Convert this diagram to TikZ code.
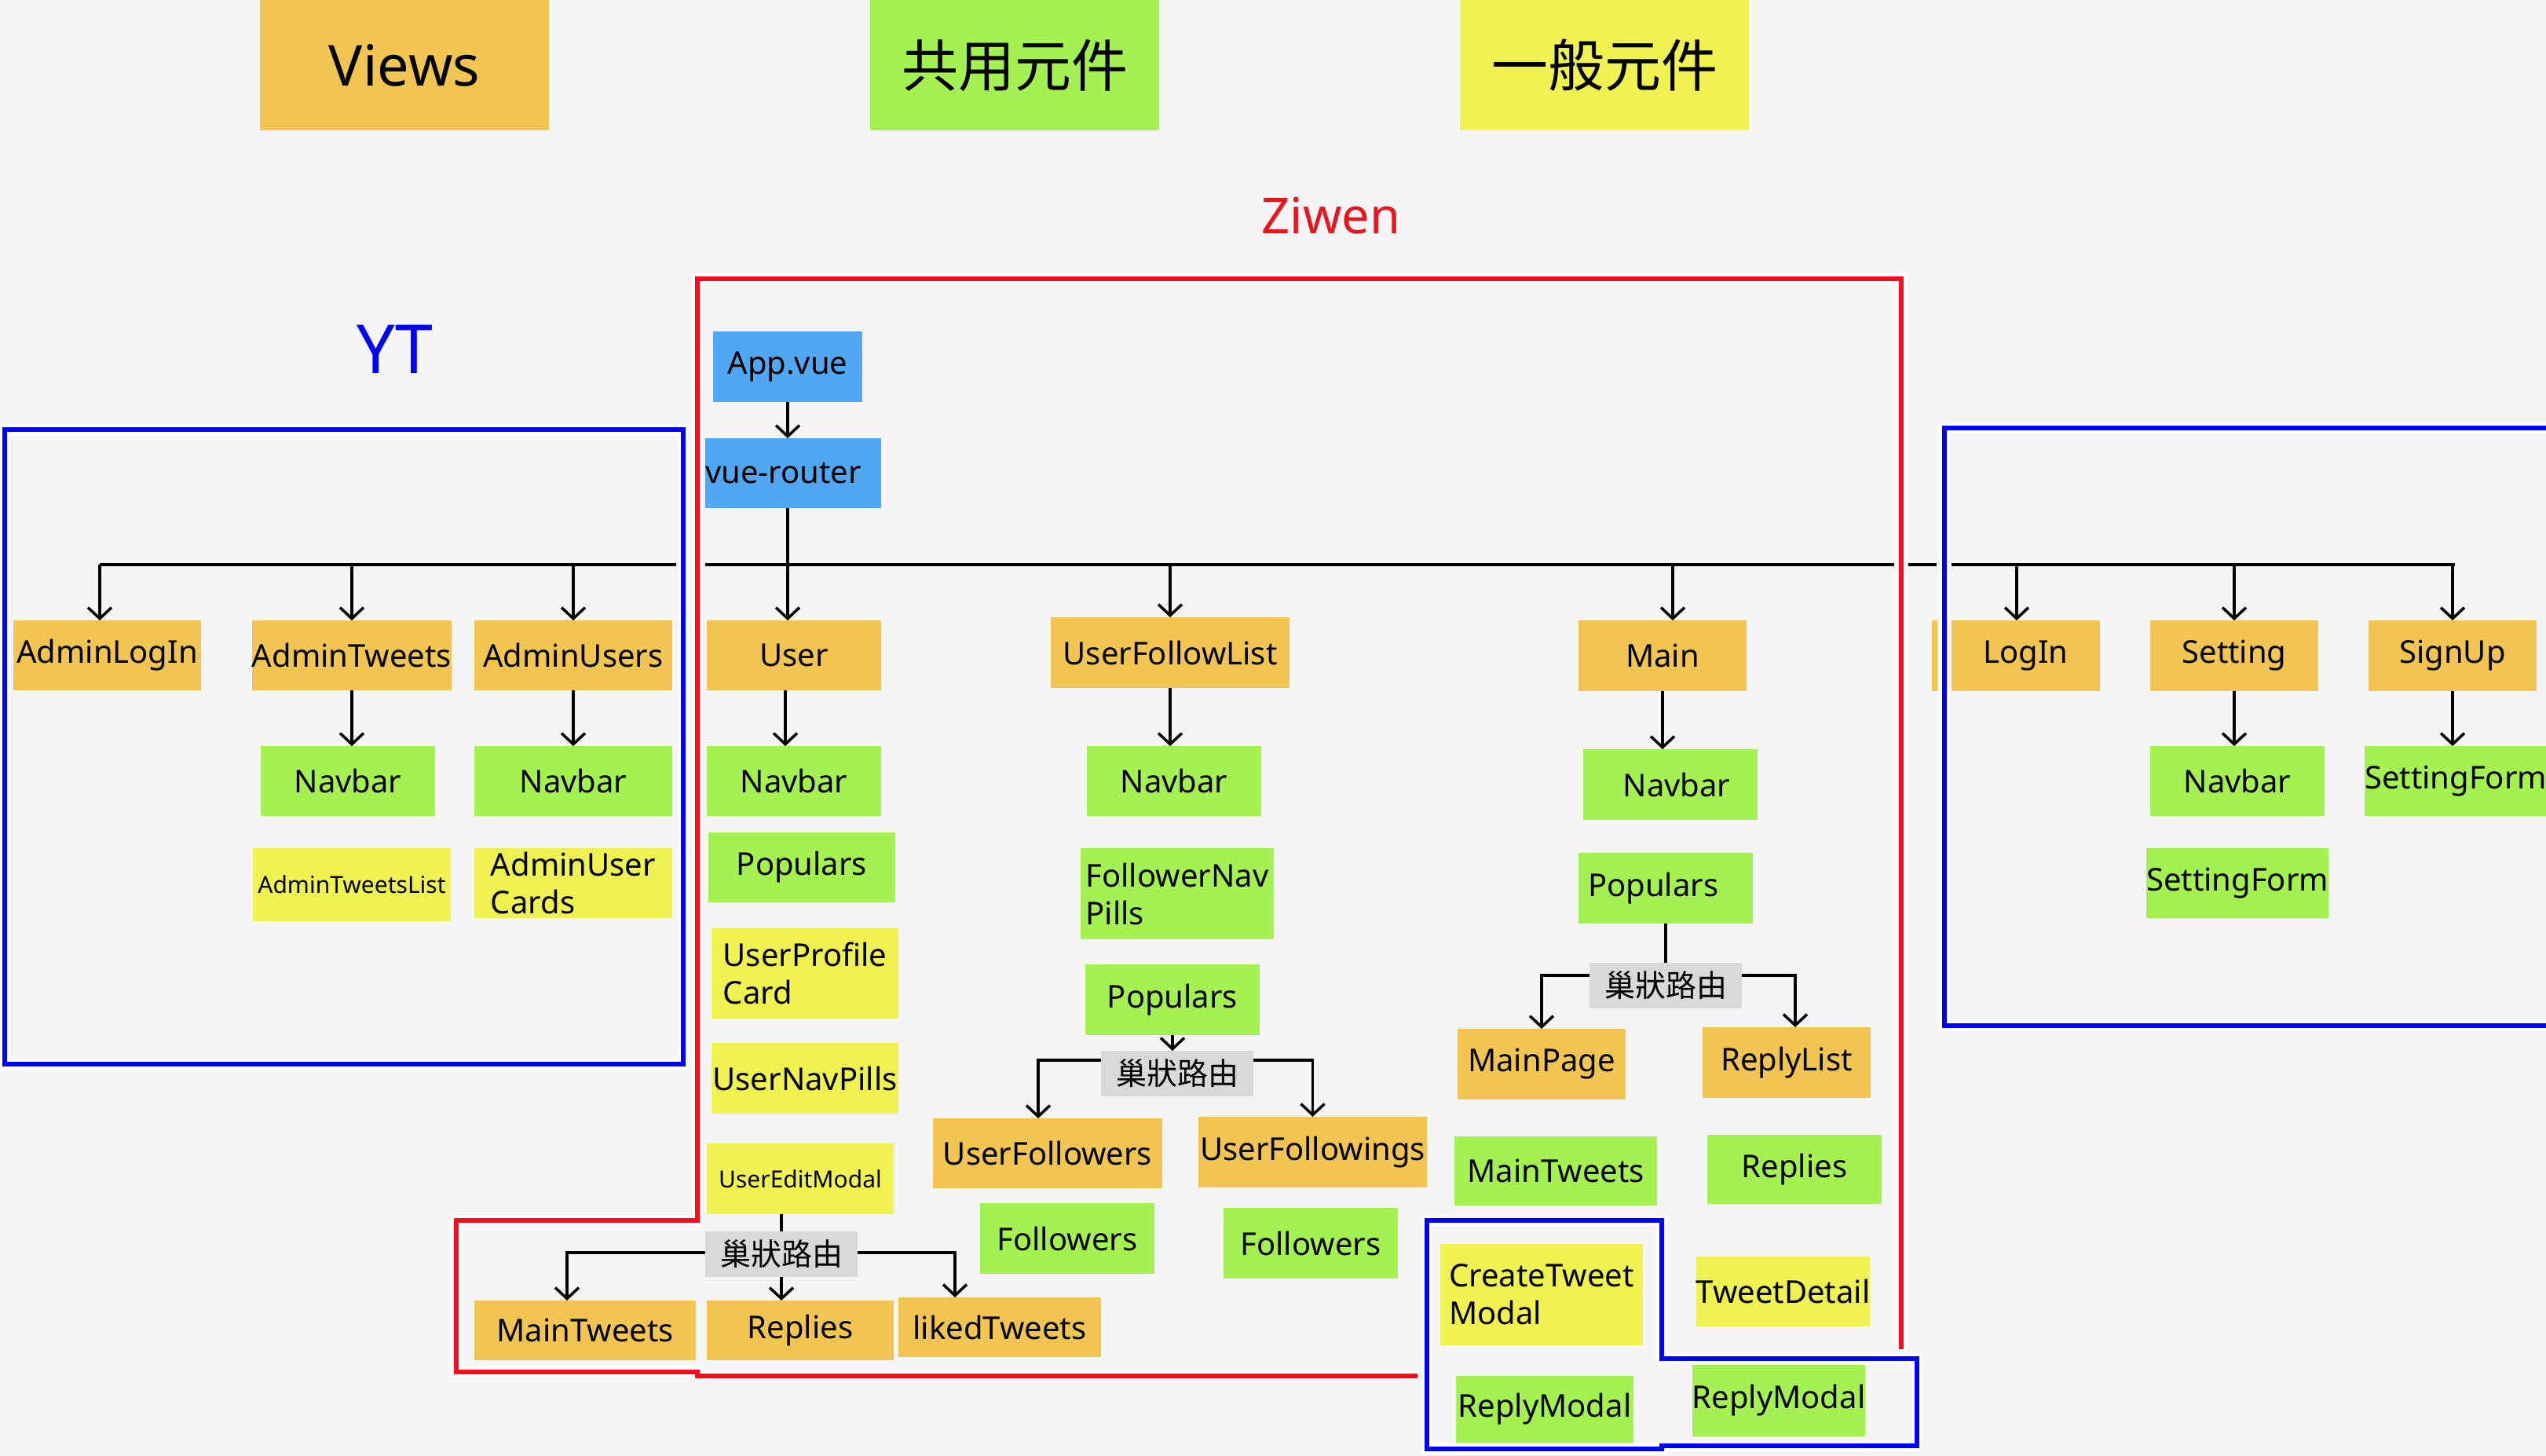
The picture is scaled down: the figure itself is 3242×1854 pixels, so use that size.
\documentclass[tikz,border=0pt]{standalone}
\usepackage{fontspec}
\setmainfont{Noto Sans}
\newfontfamily\cjk{Noto Sans CJK TC}
\usetikzlibrary{arrows.meta}
\definecolor{bg}{HTML}{F5F5F5}
\definecolor{orng}{HTML}{F2C552}
\definecolor{grn}{HTML}{A3F251}
\definecolor{ylw}{HTML}{F0F252}
\definecolor{blu}{HTML}{52A7F2}
\definecolor{gry}{HTML}{D9D9D9}
\definecolor{zred}{HTML}{FF0A1E}
\definecolor{zblue}{HTML}{0000FF}
\definecolor{tred}{HTML}{E8141E}
\newcommand\bx[8][]{\node[box,fill=#3,minimum width=\the\numexpr#5-#4\relax pt,minimum height=\the\numexpr#7-#6\relax pt,#1] (#2) at ({(#4+#5)/2},{(#6+#7)/2}) {#8};}
\begin{document}
\begin{tikzpicture}[x=1pt,y=-1pt,
 box/.style={rectangle,inner sep=0pt,outer sep=0pt,font=\fontsize{40}{48}\selectfont},
 smalltxt/.style={font=\fontsize{30}{36}\selectfont},
 legendtxt/.style={font=\fontsize{72}{86}\selectfont},
 cjklegend/.style={font=\cjk\fontsize{72}{86}\selectfont},
 route/.style={font=\cjk\fontsize{39}{46}\selectfont},
 arr/.style={line width=3.5pt,-{Straight Barb[length=14pt,width=30pt]}},
 ln/.style={line width=3.5pt},
 halo/.style={draw=white,line width=14pt},
 redln/.style={draw=zred,line width=6pt},
 bluln/.style={draw=zblue,line width=6pt}]
\fill[bg] (0,0) rectangle (3242,1854);
\useasboundingbox (0,0) rectangle (3242,1854);
\clip (0,0) rectangle (3242,1854);

% legend
\bx[legendtxt]{lv}{orng}{331}{699}{0}{166}{Views}
\bx[cjklegend]{ls}{grn}{1108}{1476}{0}{166}{共用元件}
\bx[cjklegend]{lg}{ylw}{1859}{2227}{0}{166}{一般元件}
\node[text=tred,font=\fontsize{63}{75}\selectfont] (tz) at (1695,275) {Ziwen};
\node[text=zblue,font=\bfseries\fontsize{86}{100}\selectfont] (tyt) at (503,445) {YT};

% outlines
\draw[halo] (2421,1718) -- (2421,355) -- (888,355) -- (888,1554) -- (581,1554) -- (581,1747) -- (888,1747) -- (888,1752) -- (1805,1752);
\draw[redln] (2421,1718) -- (2421,355) -- (888,355) -- (888,1554) -- (581,1554) -- (581,1747) -- (888,1747) -- (888,1752) -- (1805,1752);
\draw[halo] (6,547) rectangle (870,1355);
\draw[bluln] (6,547) rectangle (870,1355);
\draw[halo] (3260,545) -- (2476,545) -- (2476,1306) -- (3260,1306);
\draw[bluln] (3260,545) -- (2476,545) -- (2476,1306) -- (3260,1306);
\draw[halo] (1817,1554) -- (2116,1554) -- (2116,1730) -- (2441,1730) -- (2441,1841) -- (2116,1841) -- (2116,1845) -- (1817,1845) -- cycle;
\draw[bluln] (1817,1554) -- (2116,1554) -- (2116,1730) -- (2441,1730) -- (2441,1841) -- (2116,1841) -- (2116,1845) -- (1817,1845) -- cycle;

% YT column
\bx{adminlogin}{orng}{17}{256}{790}{879}{AdminLogIn}
\bx{admintweets}{orng}{322}{574}{790}{879}{AdminTweets}
\bx{adminusers}{orng}{604}{856}{790}{879}{AdminUsers}
\bx{navat}{grn}{332}{554}{950}{1039}{Navbar}
\bx{navau}{grn}{604}{856}{950}{1039}{Navbar}
\bx[smalltxt]{atlist}{ylw}{322}{574}{1080}{1173}{AdminTweetsList}
\bx[align=left]{aucards}{ylw}{604}{856}{1080}{1169}{AdminUser\\Cards}

% Ziwen top
\bx{app}{blu}{908}{1098}{422}{512}{App.vue}
\bx[text width=224pt,align=left]{router}{blu}{898}{1122}{558}{647}{vue-router}
\bx{user}{orng}{900}{1122}{790}{879}{User}
\bx{ufl}{orng}{1338}{1642}{786}{876}{UserFollowList}
\bx{main}{orng}{2010}{2224}{790}{880}{Main}
\fill[orng] (2460,790) rectangle (2467,880);
\bx{login}{orng}{2485}{2674}{790}{880}{LogIn}
\bx{setting}{orng}{2738}{2952}{790}{880}{Setting}
\bx{signup}{orng}{3016}{3230}{790}{880}{SignUp}

\bx{navuser}{grn}{900}{1122}{950}{1039}{Navbar}
\bx{navufl}{grn}{1384}{1606}{950}{1039}{Navbar}
\bx{navmain}{grn}{2016}{2238}{954}{1044}{\hspace*{16pt}Navbar}
\bx{navset}{grn}{2738}{2960}{950}{1039}{Navbar}
\bx{sfsignup}{grn}{3016}{3238}{950}{1039}{SettingForm}
\bx{sfset}{grn}{2738}{2960}{1080}{1169}{SettingForm}

% User column
\bx{popuser}{grn}{902}{1140}{1060}{1149}{Populars}
\bx[align=left]{upc}{ylw}{906}{1144}{1182}{1297}{UserProfile\\Card}
\bx{unp}{ylw}{906}{1144}{1328}{1418}{UserNavPills}
\bx[smalltxt]{uem}{ylw}{900}{1138}{1456}{1546}{UserEditModal}
\bx[route]{lbluser}{gry}{898}{1092}{1568}{1626}{巢狀路由}
\bx{mtuser}{orng}{604}{886}{1656}{1732}{MainTweets}
\bx{repuser}{orng}{900}{1138}{1656}{1732}{Replies}
\bx{liked}{orng}{1144}{1402}{1652}{1728}{likedTweets}

% UserFollowList column
\bx[align=left]{fnp}{grn}{1376}{1622}{1080}{1196}{FollowerNav\\Pills}
\bx{popufl}{grn}{1382}{1604}{1228}{1318}{Populars}
\bx[route]{lblufl}{gry}{1402}{1596}{1338}{1396}{巢狀路由}
\bx{ufers}{orng}{1188}{1480}{1424}{1513}{UserFollowers}
\bx{ufings}{orng}{1526}{1817}{1422}{1512}{UserFollowings}
\bx{fol1}{grn}{1248}{1470}{1532}{1622}{Followers}
\bx{fol2}{grn}{1558}{1780}{1538}{1628}{Followers}

% Main column
\bx[text width=198pt,align=left]{popmain}{grn}{2010}{2232}{1086}{1176}{Populars}
\bx[route]{lblmain}{gry}{2024}{2218}{1226}{1284}{巢狀路由}
\bx{mainpage}{orng}{1856}{2070}{1310}{1400}{MainPage}
\bx{replylist}{orng}{2168}{2382}{1308}{1398}{ReplyList}
\bx{mtmain}{grn}{1852}{2110}{1447}{1535}{MainTweets}
\bx{repmain}{grn}{2174}{2396}{1445}{1533}{Replies}
\bx[align=left]{ctm}{ylw}{1834}{2092}{1584}{1713}{CreateTweet\\Modal}
\bx{td}{ylw}{2160}{2381}{1600}{1689}{TweetDetail}
\bx{rm1}{grn}{1854}{2080}{1752}{1837}{ReplyModal}
\bx{rm2}{grn}{2156}{2374}{1738}{1829}{ReplyModal}

% bus
\coordinate (bus) at (0,719);
\coordinate (busA) at (127,719);
\coordinate (busB) at (861,719);
\coordinate (busC) at (898,719);
\coordinate (busD) at (2412,719);
\coordinate (busE) at (2430,719);
\coordinate (busF) at (2466,719);
\coordinate (busG) at (2485,719);
\coordinate (busH) at (3126,719);
\draw[ln] (busA) -- (busB);
\draw[ln] (busC) -- (busD);
\draw[ln] (busE) -- (busF);
\draw[ln] (busG) -- (busH);

\coordinate (alTop) at ([xshift=-9.5pt]adminlogin.north);
\coordinate (uTop) at ([xshift=-8pt]user.north);
\coordinate (mTop) at ([xshift=13pt]main.north);
\coordinate (liTop) at ([xshift=-11.5pt]login.north);
\draw[arr] (alTop |- bus) -- (alTop);
\draw[arr] (admintweets.north |- bus) -- (admintweets.north);
\draw[arr] (adminusers.north |- bus) -- (adminusers.north);
\draw[arr] (ufl.north |- bus) -- (ufl.north);
\draw[arr] (mTop |- bus) -- (mTop);
\draw[arr] (liTop |- bus) -- (liTop);
\draw[arr] (setting.north |- bus) -- (setting.north);
\draw[arr] (signup.north |- bus) -- (signup.north);

\draw[arr] (app.south) -- (app.south |- router.north);
\draw[arr] (uTop |- router.south) -- (uTop);

\draw[arr] (admintweets.south) -- (admintweets.south |- navat.north);
\draw[arr] (adminusers.south) -- (navau.north);
\coordinate (uDn) at ([xshift=-11pt]user.south);
\draw[arr] (uDn) -- (uDn |- navuser.north);
\draw[arr] (ufl.south) -- (ufl.south |- navufl.north);
\draw[arr] (main.south) -- (main.south |- navmain.north);
\draw[arr] (setting.south) -- (setting.south |- navset.north);
\draw[arr] (signup.south) -- (signup.south |- sfsignup.north);

% Main nested routes
\draw[ln] (popmain.south) -- (popmain.south |- lblmain.north);
\coordinate (lmL) at ([yshift=13pt]lblmain.west);
\coordinate (lmR) at ([yshift=13pt]lblmain.east);
\coordinate (rlTop) at ([xshift=11pt]replylist.north);
\draw[arr] (lmL) -| (mainpage.north);
\draw[arr] (lmR) -| (rlTop);

% UserFollowList nested routes
\draw[arr] (popufl.south) -- (popufl.south |- lblufl.north);
\coordinate (lfL) at ([yshift=17pt]lblufl.west);
\coordinate (lfR) at ([yshift=17pt]lblufl.east);
\coordinate (ufTop) at ([xshift=-12pt]ufers.north);
\draw[arr] (lfL) -| (ufTop);
\draw[arr] (lfR) -| (ufings.north);

% User nested routes
\draw[ln] (lbluser.north |- uem.south) -- (lbluser.north);
\coordinate (luL) at ([yshift=2pt]lbluser.west);
\coordinate (luR) at ([yshift=2pt]lbluser.east);
\coordinate (mtTop) at ([xshift=-23pt]mtuser.north);
\coordinate (lkTop) at ([xshift=-57pt]liked.north);
\draw[arr] (luL) -| (mtTop);
\draw[arr] (lbluser.south) -- (lbluser.south |- repuser.north);
\draw[arr] (luR) -| (lkTop);
\end{tikzpicture}
\end{document}
